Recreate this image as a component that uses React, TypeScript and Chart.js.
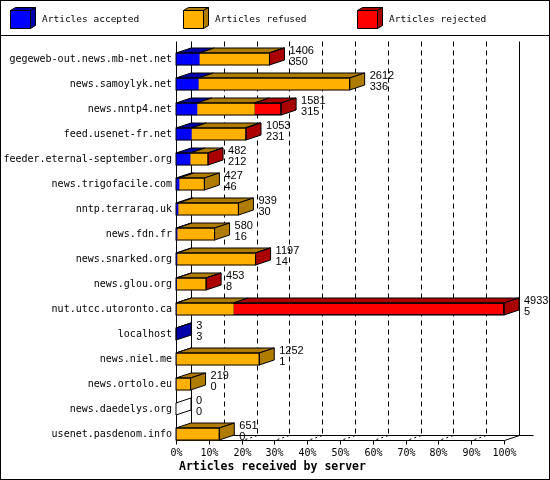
import React, { useEffect, useRef } from 'react';
import { Chart, registerables } from 'chart.js';

Chart.register(...registerables);

const servers = [
    'gegeweb-out.news.mb-net.net',
    'news.samoylyk.net',
    'news.nntp4.net',
    'feed.usenet-fr.net',
    'feeder.eternal-september.org',
    'news.trigofacile.com',
    'nntp.terraraq.uk',
    'news.fdn.fr',
    'news.snarked.org',
    'news.glou.org',
    'nut.utcc.utoronto.ca',
    'localhost',
    'news.niel.me',
    'news.ortolo.eu',
    'news.daedelys.org',
    'usenet.pasdenom.info',
];
const accepted = [350, 336, 315, 231, 212, 46, 30, 16, 14, 8, 5, 3, 1, 0, 0, 0];
const refused = [1050, 2276, 863, 804, 265, 381, 909, 564, 1180, 442, 857, 0, 1251, 219, 0, 651];
const rejected = [6, 0, 403, 18, 5, 0, 0, 0, 3, 3, 4071, 0, 0, 0, 0, 0];
const percentTicks = [0, 10, 20, 30, 40, 50, 60, 70, 80, 90, 100];
const legendNames = ['Articles accepted', 'Articles refused', 'Articles rejected'];

const FRONT = ['#0000ff', '#ffb000', '#ff0000'];
const SHADE = ['#0000aa', '#b07c00', '#aa0000'];
const DX = 15; // 3D depth
const DY = 5;
const MONO = '"DejaVu Sans Mono", monospace';

const totals = servers.map((_, i) => accepted[i] + refused[i] + rejected[i]);
const maxTotal = Math.max(...totals);
const pct = (arr: number[]) => arr.map(v => (v / maxTotal) * 100);

const poly = (ctx: CanvasRenderingContext2D, pts: number[][], fill: string | null) => {
    ctx.beginPath();
    pts.forEach(([px, py], k) => (k === 0 ? ctx.moveTo(px, py) : ctx.lineTo(px, py)));
    ctx.closePath();
    if (fill) {
        ctx.fillStyle = fill;
        ctx.fill();
    }
    ctx.strokeStyle = '#000';
    ctx.lineWidth = 1;
    ctx.stroke();
};

const line = (ctx: CanvasRenderingContext2D, x1: number, y1: number, x2: number, y2: number) => {
    ctx.beginPath();
    ctx.moveTo(x1, y1);
    ctx.lineTo(x2, y2);
    ctx.stroke();
};

const box3d = {
    id: 'box3d',
    beforeDatasetsDraw(chart: any) {
        const { ctx, scales } = chart;
        const x = scales.x;
        const y = scales.y;
        const floorF = Math.round(y.getPixelForValue(servers.length - 1) + 6) + 0.5;
        const floorB = floorF - DY;
        const top = 41.5;
        const px = (p: number) => Math.round(x.getPixelForValue(p)) + 0.5;
        ctx.save();
        ctx.strokeStyle = '#000';
        ctx.lineWidth = 1;
        // back wall grid
        percentTicks.forEach(p => {
            ctx.setLineDash(p === 0 || p === 100 ? [] : [5, 4]);
            line(ctx, px(p) + DX, top, px(p) + DX, floorB);
        });
        ctx.setLineDash([]);
        line(ctx, px(0) + DX, floorB, px(100) + DX + 14, floorB);
        // front axes
        line(ctx, px(0), top, px(0), floorF);
        line(ctx, px(0), floorF, px(100), floorF);
        line(ctx, px(100), floorF, px(100) + DX, floorB);
        line(ctx, px(0), floorF, px(0) + DX, floorB);
        // floor diagonals and ticks
        percentTicks.forEach(p => {
            line(ctx, px(p), floorF, px(p), floorF + 4);
            if (p > 0 && p < 100) {
                ctx.setLineDash([2, 3]);
                line(ctx, px(p) + 3, floorF - 1, px(p) + DX, floorB);
                ctx.setLineDash([]);
            }
        });
        ctx.fillStyle = '#000';
        ctx.font = `10px ${MONO}`;
        ctx.textAlign = 'center';
        ctx.textBaseline = 'middle';
        percentTicks.forEach(p => ctx.fillText(`${p}%`, px(p), floorF + 13));
        ctx.restore();
    },
    afterDatasetsDraw(chart: any) {
        const { ctx } = chart;
        const metas = [0, 1, 2].map(d => chart.getDatasetMeta(d));
        ctx.save();
        servers.forEach((_, i) => {
            let start = 0;
            let end = 0;
            let yc = 0;
            let lastShade: string | null = null;
            metas.forEach((meta: any, d: number) => {
                const el = meta.data[i].getProps(['x', 'base', 'y', 'height'], true);
                if (d === 0) start = el.base;
                yc = el.y;
                const xs = el.base;
                const xe = el.x;
                end = xe;
                const vals = [accepted, refused, rejected][d];
                if (vals[i] > 0) {
                    const yt = yc - 6;
                    poly(ctx, [[xs, yt], [xe, yt], [xe + DX, yt - DY], [xs + DX, yt - DY]], SHADE[d]);
                    lastShade = SHADE[d];
                }
            });
            const yt = yc - 6;
            const yb = yc + 6;
            poly(ctx, [[end, yt], [end + DX, yt - DY], [end + DX, yb - DY], [end, yb]], lastShade || '#fff');
            if (totals[i] > 0) {
                ctx.strokeStyle = '#000';
                ctx.strokeRect(start, yt, end - start, 12);
            }
            ctx.fillStyle = '#000';
            ctx.font = '11px "Liberation Sans", sans-serif';
            ctx.textAlign = 'left';
            ctx.textBaseline = 'alphabetic';
            ctx.fillText(String(totals[i]), end + DX + 5, yc - 5);
            ctx.fillText(String(accepted[i]), end + DX + 5, yc + 6);
        });
        ctx.restore();
    },
    afterDraw(chart: any) {
        const { ctx, scales } = chart;
        ctx.save();
        // legend
        const lx = [10, 183, 357];
        legendNames.forEach((name, k) => {
            const x0 = lx[k] + 0.5;
            const y0 = 10.5;
            poly(ctx, [[x0, y0], [x0 + 20, y0], [x0 + 25, y0 - 3], [x0 + 5, y0 - 3]], SHADE[k]);
            poly(ctx, [[x0 + 20, y0], [x0 + 25, y0 - 3], [x0 + 25, y0 + 15], [x0 + 20, y0 + 18]], SHADE[k]);
            poly(ctx, [[x0, y0], [x0 + 20, y0], [x0 + 20, y0 + 18], [x0, y0 + 18]], FRONT[k]);
            ctx.fillStyle = '#000';
            ctx.font = `9.5px ${MONO}`;
            ctx.textAlign = 'left';
            ctx.textBaseline = 'middle';
            ctx.fillText(name, lx[k] + 32, 20);
        });
        ctx.strokeStyle = '#000';
        line(ctx, 0, 35.5, 550, 35.5);
        ctx.strokeRect(0.5, 0.5, 549, 479);
        // axis title
        ctx.fillStyle = '#000';
        ctx.font = `bold 11.5px ${MONO}`;
        ctx.textAlign = 'left';
        ctx.textBaseline = 'middle';
        ctx.fillText('Articles received by server', scales.x.left + 3, 467);
        ctx.restore();
    },
};

export default function App() {
    const canvasRef = useRef<HTMLCanvasElement>(null);
    const chartRef = useRef<Chart | null>(null);

    useEffect(() => {
        if (!canvasRef.current) return;
        const common = { barThickness: 12, borderSkipped: false as const };
        chartRef.current = new Chart(canvasRef.current, {
            type: 'bar',
            data: {
                labels: servers,
                datasets: [
                    { label: legendNames[0], data: pct(accepted), backgroundColor: FRONT[0], borderWidth: 0, ...common },
                    { label: legendNames[1], data: pct(refused), backgroundColor: FRONT[1], borderWidth: 0, ...common },
                    { label: legendNames[2], data: pct(rejected), backgroundColor: FRONT[2], borderColor: '#000', borderWidth: 1, ...common },
                ],
            },
            options: {
                indexAxis: 'y',
                animation: false,
                responsive: true,
                maintainAspectRatio: false,
                layout: { padding: { top: 46.5, bottom: 33.5, left: 0, right: 46 } },
                scales: {
                    x: { type: 'linear', min: 0, max: 100, stacked: true, display: false },
                    y: {
                        type: 'category',
                        stacked: true,
                        offset: true,
                        grid: { display: false, drawTicks: false },
                        border: { display: false },
                        ticks: { autoSkip: false, color: '#000', padding: 4, font: { family: MONO, size: 10 } },
                        afterFit: (s: any) => { s.width = 176; },
                    },
                },
                plugins: { legend: { display: false }, tooltip: { enabled: false } },
            },
            plugins: [box3d],
        });
        return () => {
            chartRef.current?.destroy();
            chartRef.current = null;
        };
    }, []);

    return (
        <div style={{ position: 'fixed', left: 0, top: 0, width: 550, height: 480, background: '#fff' }}>
            <canvas ref={canvasRef} />
        </div>
    );
}
